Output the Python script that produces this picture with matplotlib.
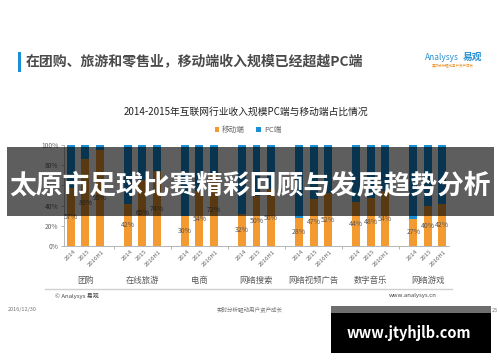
import numpy as np
import matplotlib
matplotlib.use("Agg")
import matplotlib.pyplot as plt
from matplotlib.patches import Rectangle

plt.rcParams['font.family'] = ['Noto Sans CJK SC', 'DejaVu Sans']

# data
groups = ["团购", "在线旅游", "电商", "网络搜索", "网络视频广告", "数字音乐", "网络游戏"]
years = ["2014", "2015", "2016H1"]
mobile = [57, 86, 95,
          42, 65, 74,
          30, 54, 72,
          32, 50, 56,
          28, 47, 52,
          44, 48, 54,
          27, 40, 42]
pc = [100 - v for v in mobile]

ORANGE = '#f39a30'
BLUE = '#1b8fd6'
GRAY = '#595959'

W, H = 500, 362
fig = plt.figure(figsize=(W / 100, H / 100), dpi=100)


def fx(px):
    return px / W


def fy(py):
    return 1 - py / H


# slide header
fig.patches.append(Rectangle((fx(18), fy(72)), fx(3), 20 / H, transform=fig.transFigure,
                             facecolor='#1b8fd6', lw=0, zorder=1))
fig.text(fx(26), fy(62), "在团购、旅游和零售业，移动端收入规模已经超越PC端",
         fontsize=10, fontweight='bold', color='#4a4a4a', va='center', ha='left')
fig.text(fx(425), fy(57), "Analysys", fontsize=6, color='#2a8fd0', style='italic',
         va='center', ha='left')
fig.text(fx(463), fy(57), "易观", fontsize=7, color='#2a8fd0', fontweight='bold',
         va='center', ha='left')
fig.text(fx(453), fy(66), "实时分析驱动用户资产成长", fontsize=2.5, color='#e8902a',
         va='center', ha='center')

# chart title
fig.text(fx(246), fy(112), "2014-2015年互联网行业收入规模PC端与移动端占比情况",
         fontsize=7, color='#222222', ha='center', va='center')

# main axes
ax = fig.add_axes([fx(64), fy(246), fx(449) - fx(64), (246 - 145) / H])
x = np.array([g * 4 + j for g in range(len(groups)) for j in range(len(years))])
b1 = ax.bar(x, mobile, width=0.56, color=ORANGE, label="移动端", zorder=2)
b2 = ax.bar(x, pc, width=0.56, bottom=mobile, color=BLUE, label="PC端", zorder=2)

for xi, v in zip(x, mobile):
    ax.text(xi, v / 2, f"{v}%", ha='center', va='center', fontsize=5, color=GRAY, zorder=3)

ax.set_xlim(-0.5, 26.5)
ax.set_ylim(0, 100)
ax.set_yticks(np.arange(0, 101, 20))
ax.set_yticklabels([f"{t}%" for t in range(0, 101, 20)], fontsize=4.8, color='#666666')
ax.tick_params(axis='y', length=2, width=0.5, color='#999999', pad=2)

sep = [g * 4 + 3 for g in range(len(groups) - 1)]
ax.set_xticks(sep)
ax.set_xticklabels([])
ax.tick_params(axis='x', length=2, width=0.5, color='#999999')

for s in ['top', 'right']:
    ax.spines[s].set_visible(False)
for s in ['left', 'bottom']:
    ax.spines[s].set_color('#aaaaaa')
    ax.spines[s].set_linewidth(0.6)

# year labels under each bar
for xi, k in zip(x, range(len(x))):
    ax.text(xi + 0.15, -3, years[k % 3], rotation=45, rotation_mode='anchor',
            ha='right', va='top', fontsize=4.3, color='#666666')
# group labels
for g, name in enumerate(groups):
    ax.text(g * 4 + 1, -34, name, ha='center', va='center', fontsize=6, color=GRAY)

fig.legend(handles=[b1, b2], loc='center', bbox_to_anchor=(fx(248), fy(130)), ncol=2,
           frameon=False, fontsize=5.5, handlelength=0.6, handleheight=0.6,
           columnspacing=1.5, handletextpad=0.4, labelcolor='#666666')

# footer
fig.add_artist(plt.Line2D([fx(45), fx(452)], [fy(289), fy(289)], color='#d0d0d0', lw=1))
fig.text(fx(55), fy(296), "© Analysys 易观", fontsize=4.3, color='#444444', va='center')
fig.text(fx(437), fy(296), "www.analysys.cn", fontsize=4.3, color='#444444',
         va='center', ha='right')
fig.text(fx(8), fy(310), "2016/12/30", fontsize=4, color='#777777', va='center')
fig.text(fx(250), fy(310), "实时分析驱动用户资产成长", fontsize=4, color='#777777',
         va='center', ha='center')
fig.text(fx(498), fy(310), "25", fontsize=4, color='#777777', va='center', ha='right',
         zorder=12)

# dark banner overlay
fig.patches.append(Rectangle((fx(7), fy(216)), fx(494) - fx(7), (216 - 147) / H,
                             transform=fig.transFigure, facecolor='black', lw=0,
                             alpha=0.63, zorder=10))
fig.text(fx(250), fy(185), "太原市足球比赛精彩回顾与发展趋势分析", fontsize=19.3,
         fontweight='bold', color='white', ha='center', va='center', zorder=11)

# site watermark
fig.patches.append(Rectangle((fx(331), fy(313)), fx(491) - fx(331), 7 / H,
                             transform=fig.transFigure, facecolor='#6e6e6e', lw=0, zorder=10))
fig.patches.append(Rectangle((fx(331), fy(353)), fx(491) - fx(331), 40 / H,
                             transform=fig.transFigure, facecolor='black', lw=0, zorder=10))
fig.text(fx(409), fy(333), "www.jtyhjlb.com", fontsize=10.5, fontweight='bold',
         color='white', ha='center', va='center', zorder=11)

fig.savefig("out.png", dpi=100)
